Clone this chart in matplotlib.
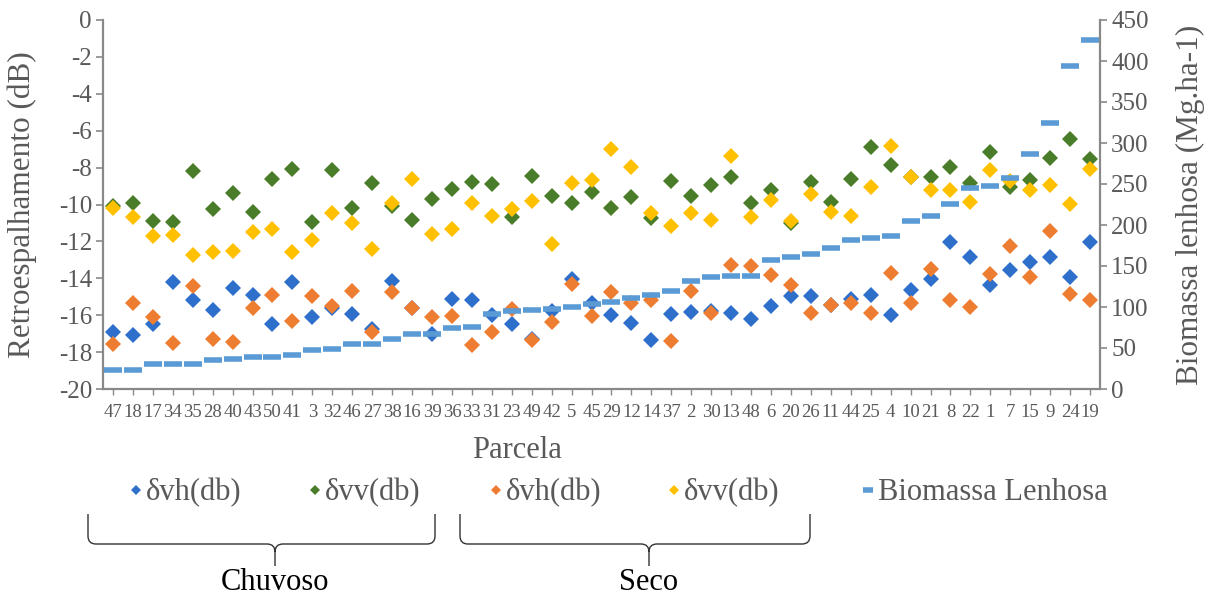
import matplotlib
matplotlib.use("Agg")
import matplotlib.pyplot as plt
from matplotlib.path import Path
from matplotlib.patches import PathPatch

plt.rcParams["font.family"] = ["Liberation Serif", "DejaVu Serif"]
plt.rcParams["axes.unicode_minus"] = False

# Plot identifiers, ordered by woody biomass
parcelas = ["47", "18", "17", "34", "35", "28", "40", "43", "50", "41",
            "3", "32", "46", "27", "38", "16", "39", "36", "33", "31",
            "23", "49", "42", "5", "45", "29", "12", "14", "37", "2",
            "30", "13", "48", "6", "20", "26", "11", "44", "25", "4",
            "10", "21", "8", "22", "1", "7", "15", "9", "24", "19"]

# Rainy season backscatter (dB)
vh_chuvoso = [-16.9, -17.1, -16.5, -14.2, -15.2, -15.7, -14.5, -14.9, -16.5, -14.2,
              -16.1, -15.6, -15.95, -16.75, -14.13, -15.6, -17.0, -15.14, -15.2, -15.99,
              -16.5, -17.3, -15.75, -14.04, -15.32, -15.99, -16.44, -17.34, -15.95, -15.8,
              -15.77, -15.9, -16.2, -15.5, -14.96, -14.96, -15.45, -15.1, -14.9, -15.99,
              -14.63, -14.06, -12.01, -12.86, -14.36, -13.55, -13.1, -12.86, -13.95, -12.01]
vv_chuvoso = [-10.1, -9.9, -10.88, -10.93, -8.2, -10.26, -9.4, -10.4, -8.6, -8.09,
              -10.97, -8.13, -10.17, -8.82, -10.1, -10.84, -9.72, -9.18, -8.76, -8.89,
              -10.7, -8.44, -9.54, -9.9, -9.33, -10.2, -9.61, -10.75, -8.71, -9.54,
              -8.94, -8.49, -9.9, -9.21, -11.0, -8.8, -9.88, -8.64, -6.87, -7.86,
              -8.5, -8.49, -7.95, -8.82, -7.14, -9.03, -8.67, -7.5, -6.47, -7.55]

# Dry season backscatter (dB)
vh_seco = [-17.56, -15.36, -16.1, -17.5, -14.4, -17.3, -17.45, -15.6, -14.9, -16.3,
           -14.94, -15.5, -14.67, -16.9, -14.76, -15.63, -16.08, -16.04, -17.6, -16.9,
           -15.65, -17.34, -16.35, -14.3, -16.06, -14.73, -15.33, -15.19, -17.42, -14.67,
           -15.9, -13.27, -13.35, -13.82, -14.35, -15.86, -15.45, -15.32, -15.86, -13.7,
           -15.32, -13.51, -15.18, -15.57, -13.77, -12.25, -13.95, -11.42, -14.85, -15.18]
vv_seco = [-10.17, -10.66, -11.7, -11.65, -12.74, -12.6, -12.5, -11.47, -11.35, -12.6,
           -11.9, -10.44, -11.0, -12.4, -9.9, -8.64, -11.6, -11.35, -9.94, -10.6,
           -10.24, -9.8, -12.14, -8.82, -8.67, -6.99, -7.95, -10.48, -11.17, -10.44,
           -10.84, -7.35, -10.66, -9.76, -10.88, -9.43, -10.39, -10.62, -9.07, -6.83,
           -8.49, -9.21, -9.21, -9.85, -8.13, -8.71, -9.21, -8.94, -9.97, -8.09]

# Woody biomass (Mg/ha)
biomassa = [23, 23, 31, 31, 31, 35, 37, 38.5, 39.5, 41,
            47, 49, 54.5, 54.5, 60.5, 67, 67.5, 75, 76, 91.5,
            95, 96, 97, 100, 104, 106.5, 111.5, 115, 119, 132,
            137, 137.5, 137.5, 157.5, 160.5, 164.5, 172, 182, 184, 186,
            204.5, 211.5, 226, 245, 247, 257.5, 287, 325, 394, 426]

db_ticks = list(range(-20, 1, 2))
bio_ticks = list(range(0, 451, 50))

W, H = 1208, 600
fig = plt.figure(figsize=(W / 100, H / 100), dpi=100)
ax = fig.add_axes([103 / W, 1 - 389 / H, 997 / W, 369 / H])
ax2 = ax.twinx()

GRAY_AX = "#898989"
GRAY_TXT = "#595959"
C_BLUE = "#2E6FCB"
C_GREEN = "#4A7D29"
C_ORANGE = "#ED7D31"
C_YELLOW = "#FFC000"
C_BIO = "#5B9BD5"

x = list(range(len(parcelas)))
ms = 8.6
h1, = ax.plot(x, vh_chuvoso, ls="none", marker="D", ms=ms, mew=0, color=C_BLUE, label="δvh(db)")
h2, = ax.plot(x, vv_chuvoso, ls="none", marker="D", ms=ms, mew=0, color=C_GREEN, label="δvv(db)")
h3, = ax.plot(x, vh_seco, ls="none", marker="D", ms=ms, mew=0, color=C_ORANGE, label="δvh(db)")
h4, = ax.plot(x, vv_seco, ls="none", marker="D", ms=ms, mew=0, color=C_YELLOW, label="δvv(db)")
h5, = ax2.plot(x, biomassa, ls="none", marker="_", ms=12.5, mew=4.0, color=C_BIO, label="Biomassa Lenhosa")

ax.set_xlim(-0.5, len(parcelas) - 0.5)
ax.set_ylim(-20, 0)
ax2.set_ylim(0, 450)
ax.set_yticks(db_ticks)
ax.set_yticklabels([str(v) for v in db_ticks])
ax2.set_yticks(bio_ticks)
ax.set_xticks(x)
ax.set_xticklabels(parcelas)

for a in (ax, ax2):
    for s in a.spines.values():
        s.set_visible(False)
ax.spines["left"].set_visible(True)
ax.spines["bottom"].set_visible(True)
ax2.spines["right"].set_visible(True)
for s in (ax.spines["left"], ax.spines["bottom"], ax2.spines["right"]):
    s.set_color(GRAY_AX)
    s.set_linewidth(1.6)

ax.tick_params(axis="y", direction="out", length=5, width=1.2, color=GRAY_AX,
               labelsize=18, labelcolor=GRAY_TXT, pad=3)
ax2.tick_params(axis="y", direction="out", length=5, width=1.2, color=GRAY_AX,
                labelsize=18, labelcolor=GRAY_TXT, pad=3)
ax.tick_params(axis="x", direction="out", length=4, width=1.0, color=GRAY_AX,
               labelsize=13.5, labelcolor=GRAY_TXT, pad=7)

fig.text(22 / W, 1 - 205 / H, "Retroespalhamento (dB)", rotation=90, ha="center", va="center",
         fontsize=22.5, color=GRAY_TXT)
fig.text(1190 / W, 1 - 205 / H, "Biomassa lenhosa (Mg.ha-1)", rotation=90, ha="center", va="center",
         fontsize=22.5, color=GRAY_TXT)
fig.text(517 / W, 1 - 451 / H, "Parcela", ha="center", va="center", fontsize=22, color=GRAY_TXT)

# Legend entries, one per series, laid out in a single row
handles = [h1, h2, h3, h4, h5]
centers = [136, 315, 496, 674, 868]
hl = 0.35
for h, cx in zip(handles, centers):
    left = cx - hl * 22 * 100 / 72 / 2
    fig.legend(handles=[h], labels=[h.get_label()], loc="center left",
               bbox_to_anchor=(left / W, 1 - 493 / H), frameon=False,
               borderpad=0, borderaxespad=0, handlelength=hl, handletextpad=0.15,
               markerscale=0.62, fontsize=22, labelcolor=GRAY_TXT)


def brace(x0, x1, xt, y_top, y_line, y_tip, r=8):
    """Curly brace in figure pixel coordinates (y measured from the top)."""
    def p(px, py):
        return (px / W, 1 - py / H)
    verts = [p(x0, y_top), p(x0, y_line - r), p(x0, y_line), p(x0 + r, y_line),
             p(xt - r, y_line), p(xt, y_line), p(xt, y_line + r), p(xt, y_tip),
             p(xt, y_line + r), p(xt, y_line), p(xt + r, y_line),
             p(x1 - r, y_line), p(x1, y_line), p(x1, y_line - r), p(x1, y_top)]
    codes = [Path.MOVETO, Path.LINETO, Path.CURVE3, Path.CURVE3,
             Path.LINETO, Path.CURVE3, Path.CURVE3, Path.LINETO,
             Path.MOVETO, Path.CURVE3, Path.CURVE3,
             Path.LINETO, Path.CURVE3, Path.CURVE3, Path.LINETO]
    patch = PathPatch(Path(verts, codes), transform=fig.transFigure, fill=False,
                      edgecolor="#333333", lw=1.0)
    fig.add_artist(patch)


brace(88, 435, 275, 514, 544, 566)
brace(460, 810, 649, 514, 544, 566)
fig.text(275 / W, 1 - 583 / H, "Chuvoso", ha="center", va="center", fontsize=22, color="black")
fig.text(649 / W, 1 - 583 / H, "Seco", ha="center", va="center", fontsize=22, color="black")

fig.savefig("out.png", dpi=100)
